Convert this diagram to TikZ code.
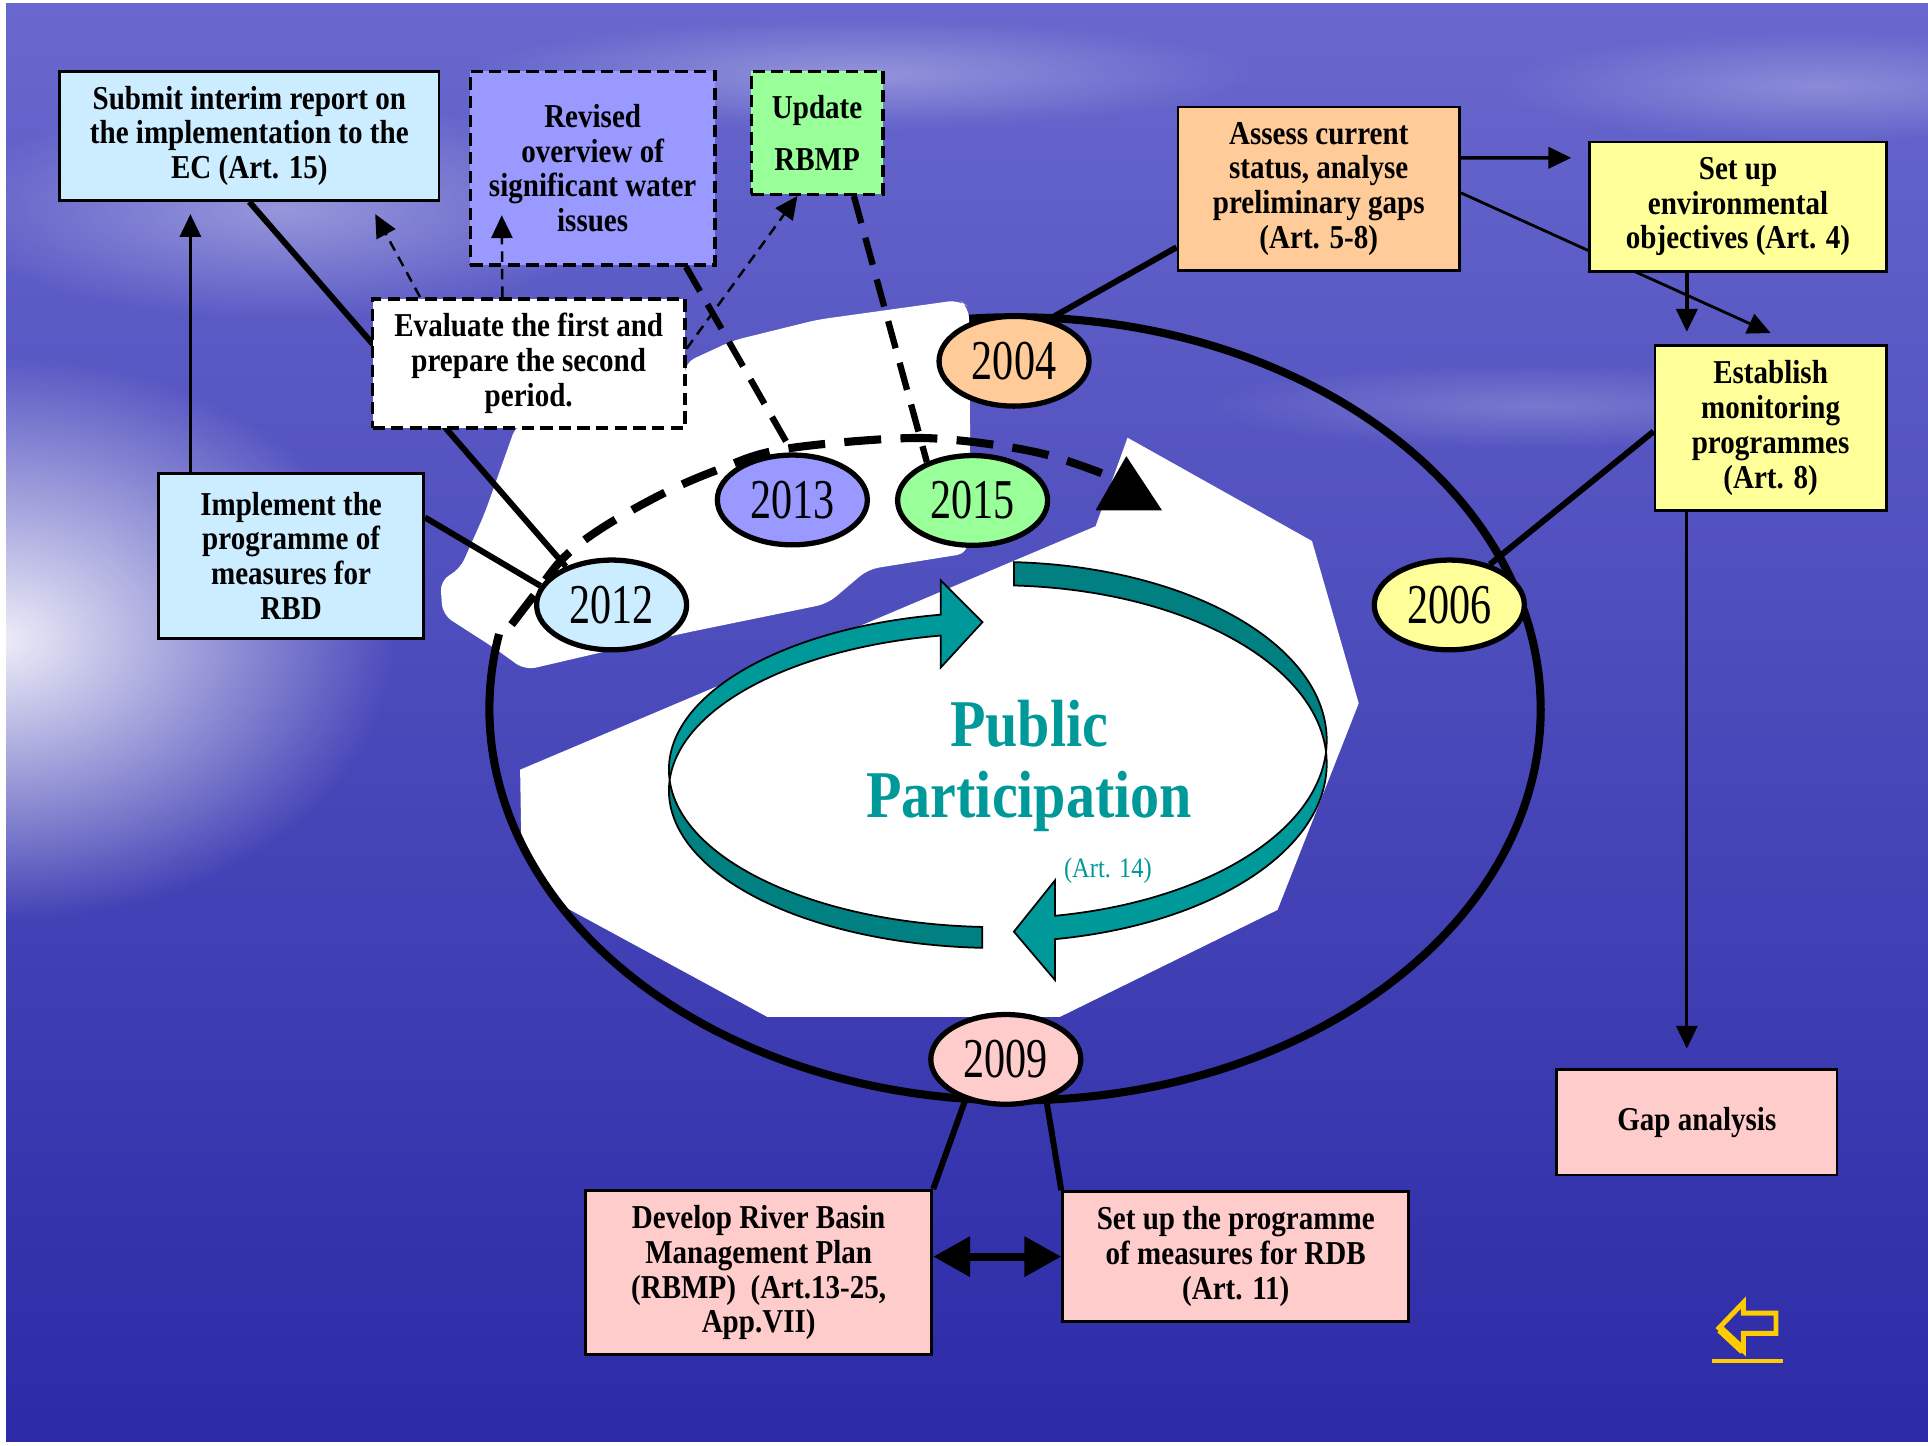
\documentclass[tikz,border=0pt]{standalone}
\usepackage{fontspec}
\setmainfont{Liberation Serif}[FakeStretch=0.87]
\newfontfamily\yearfam{Liberation Serif}[FakeStretch=0.75]
\usetikzlibrary{shapes.geometric, arrows.meta, positioning, calc, fadings}

\definecolor{bgtop}{RGB}{104,104,206}
\definecolor{bgbot}{RGB}{44,42,166}
\definecolor{skyblue1}{RGB}{204,236,255}
\definecolor{lilac1}{RGB}{153,153,255}
\definecolor{mint1}{RGB}{153,255,153}
\definecolor{peach1}{RGB}{255,204,153}
\definecolor{lemon1}{RGB}{255,255,153}
\definecolor{rose1}{RGB}{255,204,204}
\definecolor{teal1}{RGB}{0,153,153}
\definecolor{darkteal1}{RGB}{0,128,128}
\definecolor{gold1}{RGB}{255,204,0}

\newlength\upx
\setlength\upx{0.12296mm}
\newcommand\boxfont{\fontsize{9.5}{9.9}\selectfont\bfseries}
\newcommand\yearfont{\yearfam\fontsize{16}{17}\selectfont}

\tikzfading[name=glowfade, inner color=transparent!0, outer color=transparent!100]

\tikzset{
  box/.style={draw, line width=0.8pt, align=center, inner sep=2pt, font=\boxfont},
  dbox/.style={box, line width=1pt, dash pattern=on 3.5pt off 1.8pt},
  year/.style={ellipse, draw, line width=1.5pt, minimum width=122\upx, minimum height=73\upx, inner sep=0pt, font=\yearfont},
  link/.style={line width=1.7pt},
  dlink/.style={line width=1.8pt, dash pattern=on 8pt off 4.3pt},
  cyclearc/.style={line width=2.3pt, dash pattern=on 10.5pt off 5.5pt},
  thinarrow/.style={line width=0.8pt, -{Triangle[length=6.5pt, width=6pt]}},
  dasharrow/.style={thinarrow, line width=0.7pt, dash pattern=on 3pt off 2pt},
  band/.style={draw=black, line width=0.5pt},
}

\begin{document}
\begin{tikzpicture}[x=0.12296mm, y=-0.12296mm]
  \useasboundingbox (0,0) rectangle (1568,1176);

  % Sky and water
  \fill[white] (0,0) rectangle (1568,1176);
  \shade[top color=bgtop, bottom color=bgbot] (5,3) rectangle (1568,1172);
  \fill[white, opacity=0.9, path fading=glowfade] (0,520) ellipse (320 and 230);
  \fill[white, opacity=0.35, path fading=glowfade] (230,170) ellipse (280 and 90);
  \fill[white, opacity=0.3, path fading=glowfade] (700,60) ellipse (320 and 45);
  \fill[white, opacity=0.25, path fading=glowfade] (1480,70) ellipse (260 and 45);
  \fill[white, opacity=0.2, path fading=glowfade] (1250,330) ellipse (280 and 35);

  % White patches
  \fill[white, rounded corners=3pt] (420,345) -- (394,418) -- (374,463) -- (358,472) -- (360,500)
    -- (402,527) -- (427,545) -- (556,515) -- (673,491) -- (706,463) -- (787,450) -- (789,358)
    -- (788,250) -- (780,244) -- (665,260) -- (596,277) -- (557,295) -- (557,345) -- cycle;
  \fill[white] (423,626) -- (891,428) -- (917,356) -- (1067,440) -- (1105,572) -- (1039,740)
    -- (862,827) -- (624,827) -- (460,738) -- (424,686) -- cycle;

  % Public participation arrows
  \filldraw[band, fill=darkteal1]
    ([shift={(811,626)}]92.6:267 and 128) arc[start angle=92.6, end angle=176.2, x radius=267, y radius=128]
    -- ([shift={(811,643)}]183.8:267 and 128) arc[start angle=183.8, end angle=92.6, x radius=267, y radius=128] -- cycle;
  \filldraw[band, fill=teal1]
    ([shift={(811,626)}]176.2:267 and 128) arc[start angle=176.2, end angle=260.1, x radius=267, y radius=128]
    -- (765,472) -- (799,506) -- (765,543)
    -- ([shift={(811,643)}]260.1:267 and 128) arc[start angle=260.1, end angle=183.8, x radius=267, y radius=128] -- cycle;
  \filldraw[band, fill=darkteal1]
    ([shift={(811.5,602)}]-87.2:267.5 and 145) arc[start angle=-87.2, end angle=3.76, x radius=267.5, y radius=145]
    -- ([shift={(811.5,621)}]-3.76:267.5 and 145) arc[start angle=-3.76, end angle=-87.2, x radius=267.5, y radius=145] -- cycle;
  \filldraw[band, fill=teal1]
    ([shift={(811.5,602)}]3.76:267.5 and 145) arc[start angle=3.76, end angle=80, x radius=267.5, y radius=145]
    -- (858,716) -- (824.6,757.7) -- (858,797)
    -- ([shift={(811.5,621)}]80:267.5 and 145) arc[start angle=80, end angle=-3.76, x radius=267.5, y radius=145] -- cycle;
  \node[text=teal1, font=\fontsize{19}{20.3}\selectfont\bfseries, align=center] (pp) at (837,623) {Public\\Participation};
  \node[text=teal1, font=\fontsize{8}{9}\selectfont] (art14) at (901,708) {(Art. 14)};

  % Planning cycle
  \draw[line width=2.3pt] ([shift={(825.5,576.5)}]265:427.5 and 318.5)
    arc[start angle=265, end angle=551, x radius=427.5, y radius=318.5];
  \draw[cyclearc] plot[smooth, tension=0.6] coordinates {(416,508) (436,482) (459,453) (491,428.5)
    (540,401) (584,382) (633,366) (722,357) (778,358) (848,369) (904,388)};
  \fill (916,371) -- (891,415) -- (945,415) -- cycle;

  % Years
  \node[year, fill=peach1] (yr2004) at (824.7,293.8) {2004};
  \node[year, fill=lilac1] (yr2013) at (644.4,406.6) {2013};
  \node[year, fill=mint1] (yr2015) at (791,407) {2015};
  \node[year, fill=skyblue1] (yr2012) at (497.4,492) {2012};
  \node[year, fill=lemon1] (yr2006) at (1178.7,492) {2006};
  \node[year, fill=rose1] (yr2009) at (818,861.6) {2009};

  % Steps
  \node[box, fill=skyblue1, minimum width=308.5\upx, minimum height=105\upx] (submit) at (202.75,110.5)
    {Submit interim report on\\the implementation to the\\EC (Art. 15)};
  \node[box, fill=skyblue1, minimum width=215.5\upx, minimum height=134\upx] (implement) at (236.75,452)
    {Implement the\\programme of\\measures for\\RBD};
  \node[box, fill=peach1, minimum width=229\upx, minimum height=133\upx] (assess) at (1072.5,153.5)
    {Assess current\\status, analyse\\preliminary gaps\\(Art. 5-8)};
  \node[box, fill=lemon1, minimum width=188\upx, minimum height=134\upx] (establish) at (1440,348)
    {Establish\\monitoring\\programmes\\(Art. 8)};

  % Links running under other boxes
  \draw[link] (submit.south) -- (yr2012.140);
  \draw[thinarrow] ($(assess.north east)+(0,71)$) -- ($(establish.north)+(0,-9)$);

  \node[dbox, fill=white, minimum width=254\upx, minimum height=105\upx] (evaluate) at (430,295.5)
    {Evaluate the first and\\prepare the second\\period.};
  \node[box, fill=lemon1, minimum width=241\upx, minimum height=105\upx] (setenv) at (1413.5,168)
    {Set up\\environmental\\objectives (Art. 4)};
  \node[dbox, fill=lilac1, minimum width=199\upx, minimum height=157.6\upx] (revised) at (482,136.8)
    {Revised\\overview of\\significant water\\issues};
  \node[dbox, fill=mint1, minimum width=107\upx, minimum height=100\upx] (update) at (664.5,108)
    {Update\\[5pt]RBMP};
  \node[box, fill=rose1, minimum width=228\upx, minimum height=85.6\upx] (gap) at (1380,912.8)
    {Gap analysis};
  \node[box, fill=rose1, minimum width=281.7\upx, minimum height=133.7\upx] (develop) at (617,1035)
    {Develop River Basin\\Management Plan\\(RBMP)\ \ (Art.13-25,\\App.VII)};
  \node[box, fill=rose1, minimum width=281.5\upx, minimum height=105.6\upx] (setprog) at (1005,1022)
    {Set up the programme\\of measures for RDB\\(Art. 11)};

  % Links
  \draw[link] ($(implement.north east)+(0,37)$) -- (yr2012.165);
  \draw[link] ($(assess.south west)+(0,-20)$) -- (yr2004.50);
  \draw[link] ($(establish.north west)+(0,71)$) -- (yr2006.45);
  \draw[link] (yr2009.225) -- (develop.north east);
  \draw[link] (yr2009.315) -- (setprog.north west);
  \draw[dlink] ($(revised.south east)+(-25,0)$) -- (yr2013.north);
  \draw[dlink] ($(update.south east)+(-25,0)$) -- (yr2015.140);

  % Arrows
  \coordinate (impltop) at ($(implement.north west)+(27,0)$);
  \draw[thinarrow, shorten >=10\upx] (impltop) -- (impltop |- submit.south);
  \draw[dasharrow] ($(evaluate.north west)+(40,0)$) -- ($(submit.south east)+(-53,10)$);
  \draw[dasharrow] ($(evaluate.north west)+(107,0)$) -- ($(revised.south west)+(27,-42)$);
  \draw[dasharrow] ($(evaluate.north east)+(0,42)$) -- ($(update.south west)+(39,0)$);
  \draw[thinarrow, line width=1pt, shorten >=14\upx] ($(assess.north east)+(0,42.5)$) -- ($(setenv.north west)+(0,14)$);
  \coordinate (envbot) at ($(setenv.south west)+(80,0)$);
  \draw[thinarrow, line width=1pt, shorten >=10\upx] (envbot) -- (envbot |- establish.north);
  \coordinate (estbot) at ($(establish.south west)+(27,0)$);
  \draw[thinarrow, shorten >=16\upx] (estbot) -- (estbot |- gap.north);
  \draw[line width=2.2pt, {Triangle[length=10.5pt,width=11pt]}-{Triangle[length=10.5pt,width=11pt]}]
    (develop.east |- setprog.west) -- (setprog.west);

  % Back button
  \draw[gold1, line width=1.4pt] (1398,1080) -- (1417.8,1059.4) -- (1417.8,1068) -- (1444.4,1068)
    -- (1444.4,1084.4) -- (1417.8,1084.4) -- (1417.8,1098.5) -- cycle;
  \draw[gold1, line width=2.4pt] (1399,1081) -- (1417.8,1098.5);
  \fill[gold1] (1392.6,1105) rectangle (1449.8,1108.3);
\end{tikzpicture}
\end{document}
